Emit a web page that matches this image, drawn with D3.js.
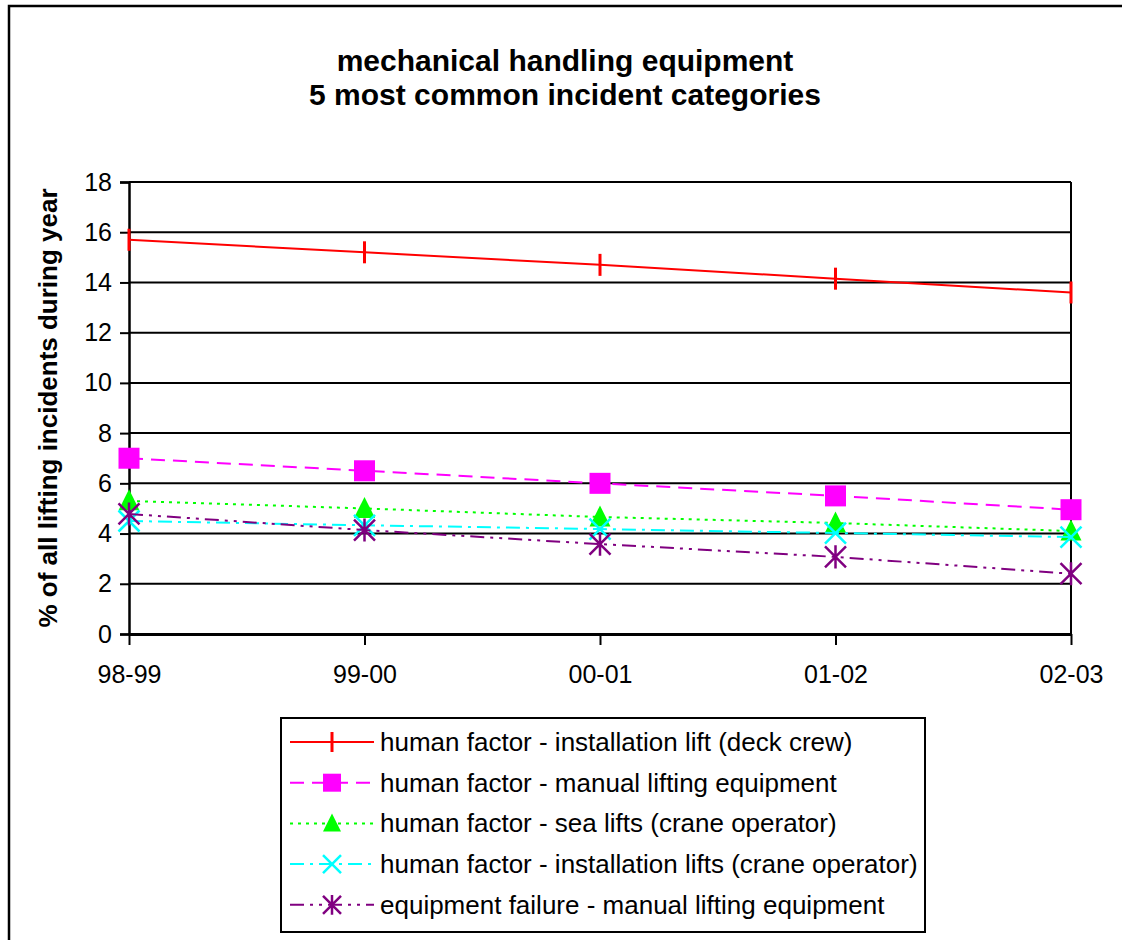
<!DOCTYPE html>
<html><head><meta charset="utf-8">
<script src="https://cdn.jsdelivr.net/npm/d3@7"></script>
<style>body{margin:0;background:#fff}svg{display:block}text{font-family:"Liberation Sans",Arial,sans-serif}</style>
</head><body><svg id="c" width="1122" height="940"></svg>
<script>
const categories = ["98-99","99-00","00-01","01-02","02-03"];
const seriesNames = [
  "human factor - installation lift (deck crew)",
  "human factor - manual lifting equipment",
  "human factor - sea lifts (crane operator)",
  "human factor - installation lifts (crane operator)",
  "equipment failure - manual lifting equipment"
];
const deckCrew = [15.7, 15.2, 14.7, 14.15, 13.6];
const manualLifting = [7.0, 6.5, 6.0, 5.5, 4.95];
const seaLifts = [5.3, 5.0, 4.66, 4.42, 4.1];
const installCrane = [4.5, 4.33, 4.18, 4.02, 3.86];
const equipFailure = [4.78, 4.14, 3.58, 3.07, 2.4];
const yTicks = [0,2,4,6,8,10,12,14,16,18];

const styles = [
  {color:"#ff0000", dash:null, marker:"bar"},
  {color:"#ff00ff", dash:"14,8", marker:"square"},
  {color:"#00ff00", dash:"3,5", marker:"triangle"},
  {color:"#00ffff", dash:"14,6,3,6", marker:"x"},
  {color:"#800080", dash:"14,6,3,6,3,6", marker:"star"}
];
const allSeries = [deckCrew, manualLifting, seaLifts, installCrane, equipFailure];

const svg = d3.select("#c");
// outer frame
svg.append("rect").attr("x",9).attr("y",6).attr("width",1130).attr("height",960)
  .attr("fill","none").attr("stroke","#000").attr("stroke-width",2.5);

// title
svg.append("text").attr("x",565).attr("y",71).attr("text-anchor","middle")
  .attr("font-weight","bold").attr("font-size",30).text("mechanical handling equipment");
svg.append("text").attr("x",565).attr("y",105).attr("text-anchor","middle")
  .attr("font-weight","bold").attr("font-size",30).text("5 most common incident categories");

const L=129, R=1071, T=182, B=634;
const x = d3.scalePoint().domain(categories).range([L,R]);
const y = d3.scaleLinear().domain([0,18]).range([B,T]);

// gridlines
svg.append("g").selectAll("line").data(yTicks).join("line")
  .attr("x1",L).attr("x2",R).attr("y1",d=>y(d)).attr("y2",d=>y(d))
  .attr("stroke","#000").attr("stroke-width",2);
// right border
svg.append("line").attr("x1",R).attr("x2",R).attr("y1",T).attr("y2",B).attr("stroke","#000").attr("stroke-width",2);

// y axis
const yAxis = d3.axisLeft(y).tickValues(yTicks).tickSize(9).tickPadding(8).tickFormat(d3.format("d"));
const gy = svg.append("g").attr("transform",`translate(${L},0)`).call(yAxis);
gy.attr("font-size",25).attr("font-family","Liberation Sans, Arial, sans-serif");
gy.select(".domain").attr("stroke","#000").attr("stroke-width",2.5);
gy.selectAll(".tick line").attr("stroke","#000").attr("stroke-width",2);
gy.selectAll(".tick text").attr("fill","#000");

// x axis
const xAxis = d3.axisBottom(x).tickSize(11).tickSizeOuter(0).tickPadding(20);
const gx = svg.append("g").attr("transform",`translate(0,${B})`).call(xAxis);
gx.attr("font-size",25).attr("font-family","Liberation Sans, Arial, sans-serif");
gx.select(".domain").attr("stroke","#000").attr("stroke-width",3);
gx.selectAll(".tick line").attr("stroke","#000").attr("stroke-width",2);
gx.selectAll(".tick text").attr("fill","#000");

// y title
svg.append("text").attr("transform",`translate(57,${(T+B)/2}) rotate(-90)`)
  .attr("text-anchor","middle").attr("font-weight","bold").attr("font-size",26)
  .text("% of all lifting incidents during year");

function drawMarker(g, type, color, cx, cy, s) {
  const h = s/2;
  if (type==="bar") {
    g.append("line").attr("x1",cx).attr("x2",cx).attr("y1",cy-h).attr("y2",cy+h)
      .attr("stroke",color).attr("stroke-width",3);
  } else if (type==="square") {
    g.append("rect").attr("x",cx-h).attr("y",cy-h).attr("width",s).attr("height",s).attr("fill",color);
  } else if (type==="triangle") {
    g.append("path").attr("d",`M${cx},${cy-h*1.1}L${cx+h},${cy+h*0.9}L${cx-h},${cy+h*0.9}Z`).attr("fill",color);
  } else if (type==="x") {
    g.append("path").attr("d",`M${cx-h},${cy-h}L${cx+h},${cy+h}M${cx-h},${cy+h}L${cx+h},${cy-h}`)
      .attr("stroke",color).attr("stroke-width",2.5).attr("fill","none");
  } else if (type==="star") {
    g.append("path").attr("d",`M${cx-h},${cy-h}L${cx+h},${cy+h}M${cx-h},${cy+h}L${cx+h},${cy-h}M${cx},${cy-h*1.1}L${cx},${cy+h*1.1}`)
      .attr("stroke",color).attr("stroke-width",2.5).attr("fill","none");
  }
}

const line = d3.line().x((d,i)=>x(categories[i])).y(d=>y(d));
allSeries.forEach((vals,si)=>{
  const st = styles[si];
  const g = svg.append("g");
  g.append("path").datum(vals).attr("d",line).attr("fill","none")
    .attr("stroke",st.color).attr("stroke-width",2)
    .attr("stroke-dasharray",st.dash);
  const size = st.marker==="bar"?22:21;
  vals.forEach((v,i)=>drawMarker(g, st.marker, st.color, x(categories[i]), y(v), size));
});

// legend
const lg = svg.append("g");
lg.append("rect").attr("x",281).attr("y",718).attr("width",644).attr("height",214)
  .attr("fill","#fff").attr("stroke","#000").attr("stroke-width",2);
seriesNames.forEach((name,i)=>{
  const st = styles[i];
  const cy = 742 + i*40.7;
  lg.append("line").attr("x1",290).attr("x2",374).attr("y1",cy).attr("y2",cy)
    .attr("stroke",st.color).attr("stroke-width",2).attr("stroke-dasharray",st.dash);
  drawMarker(lg, st.marker, st.color, 332, cy, st.marker==="bar"?20:18);
  lg.append("text").attr("x",380).attr("y",cy+9).attr("font-size",26).text(name);
});
</script></body></html>
